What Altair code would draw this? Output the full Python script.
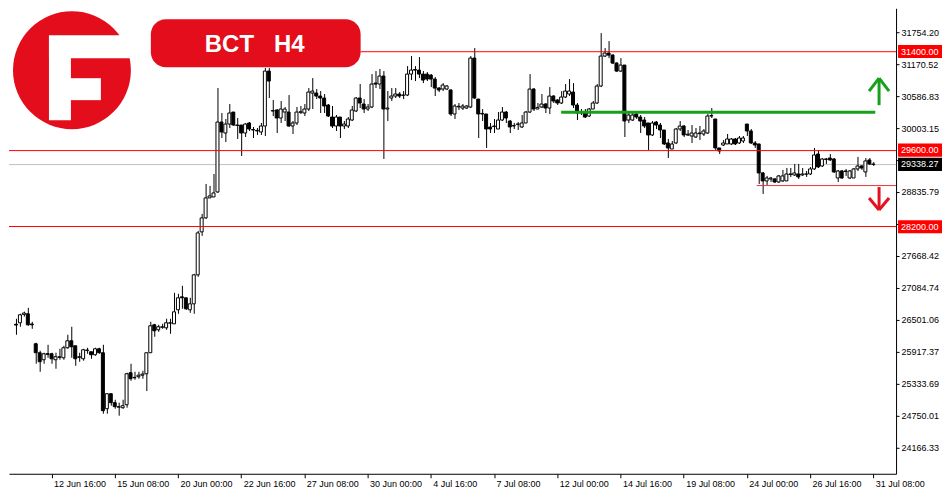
import altair as alt
import pandas as pd

# ---------------- data ----------------
opens = [
    26420, 26447, 26600, 26611, 26425, 26064, 25900, 25772, 25870, 25881,
    25772, 25815, 25808, 25991, 26118, 26027, 25815, 25790, 25940, 25918,
    25863, 25972, 25900, 24878, 25152, 24988, 24905, 24896, 24951, 25535,
    25450, 25462, 25490, 25516, 25900, 26410, 26319, 26365, 26355, 26440,
    26428, 26684, 26921, 26903, 26684, 26793, 27322, 28107, 28362, 28727,
    28745, 28836, 30113, 29912, 30076, 30295, 30050, 30058, 29912, 30095,
    29975, 29960, 29931, 30040, 31043, 30320, 30332, 30186, 30295, 30295,
    30040, 30095, 30290, 30277, 30350, 30642, 30642, 30587, 30551, 30423,
    30204, 30040, 30204, 30040, 30040, 30149, 30314, 30551, 30441, 30350,
    30387, 30824, 30806, 30952, 30350, 30551, 30587, 30624, 30600, 30605,
    30988, 31070, 31061, 30988, 30988, 30970, 30897, 30733, 30715, 30715,
    30697, 30259, 30390, 30368, 30368, 30387, 31280, 30532, 30270, 30259,
    30022, 30030, 29985, 30149, 30295, 30131, 30040, 30070, 30022, 30095,
    30295, 30715, 30350, 30387, 30441, 30368, 30587, 30514, 30460, 30569,
    30624, 30660, 30423, 30280, 30277, 30222, 30350, 30460, 30770, 31317,
    31372, 31335, 31189, 31043, 31153, 30149, 30149, 30259, 30204, 30149,
    30095, 29876, 30113, 30058, 29967, 29730, 29620, 29730, 29985, 30040,
    29876, 29858, 29839, 29900, 29894, 29912, 30222, 30168, 29639, 29693,
    29712, 29712, 29803, 29730, 29766, 30076, 29949, 29730, 29712, 29183,
    29037, 29073, 29073, 29018, 29037, 29037, 29155, 29146, 29164, 29146,
    29160, 29164, 29256, 29529, 29310, 29430, 29456, 29438, 29091, 29219,
    29210, 29091, 29091, 29256, 29310, 29201, 29420, 29345,
]
highs = [
    26520, 26611, 26650, 26720, 26465, 26082, 25936, 25900, 26045, 25900,
    25900, 25972, 26027, 26228, 26374, 26027, 25900, 25972, 25991, 25918,
    25991, 25991, 26045, 25152, 25152, 25042, 24988, 25042, 25535, 25699,
    25553, 25553, 25571, 25900, 26465, 26428, 26410, 26428, 26520, 26520,
    26994, 26976, 27122, 26903, 26903, 27340, 28125, 28435, 28982, 28946,
    29164, 30733, 30277, 30168, 30441, 30295, 30186, 30058, 30095, 30113,
    30022, 30003, 30095, 31098, 31098, 30514, 30350, 30496, 30387, 30605,
    30131, 30387, 30405, 30441, 30733, 30915, 30715, 30678, 30624, 30441,
    30405, 30241, 30204, 30131, 30204, 30405, 30569, 30806, 30532, 30441,
    30988, 31043, 31080, 31043, 30678, 30733, 30733, 30660, 30678, 31134,
    31317, 31134, 31299, 31043, 31025, 30988, 30934, 30751, 30824, 30788,
    30715, 30441, 30460, 30441, 30423, 31317, 31463, 30532, 30350, 30259,
    30095, 30168, 30295, 30387, 30314, 30149, 30095, 30113, 30241, 30314,
    30988, 30733, 30460, 30624, 30460, 30751, 30605, 30532, 30678, 30806,
    30897, 30824, 30460, 30350, 30350, 30368, 30496, 30806, 31736, 31463,
    31590, 31353, 31207, 31280, 31153, 30277, 30295, 30277, 30241, 30204,
    30095, 30131, 30131, 30095, 29967, 29803, 29766, 30003, 30131, 30058,
    29967, 30058, 30003, 30040, 29985, 30259, 30368, 30168, 29639, 29785,
    29894, 29821, 29821, 29858, 29858, 30076, 29985, 29766, 29712, 29201,
    29128, 29110, 29091, 29146, 29237, 29274, 29274, 29347, 29347, 29274,
    29219, 29292, 29639, 29602, 29456, 29456, 29529, 29456, 29237, 29237,
    29256, 29237, 29274, 29475, 29329, 29456, 29456, 29383,
]
lows = [
    26228, 26374, 26560, 26392, 26337, 25699, 25553, 25699, 25808, 25699,
    25608, 25772, 25772, 25972, 25808, 25662, 25735, 25754, 25881, 25790,
    25845, 25881, 24787, 24787, 24933, 24878, 24750, 24878, 24896, 25389,
    25407, 25425, 25425, 25200, 25900, 26191, 26282, 26337, 26319, 26246,
    26428, 26611, 26702, 26684, 26629, 26611, 27286, 28034, 28344, 28727,
    28745, 28818, 29821, 29748, 30003, 30040, 29803, 29493, 29839, 29949,
    29821, 29876, 29876, 29858, 30551, 30222, 29912, 30095, 30131, 30022,
    29894, 30058, 30259, 30222, 30314, 30350, 30532, 30277, 30277, 30204,
    30003, 29949, 29821, 29985, 30003, 30131, 30295, 30368, 30277, 30314,
    30368, 30733, 30715, 29438, 30131, 30496, 30551, 30551, 30532, 30587,
    30879, 30861, 30915, 30824, 30861, 30751, 30587, 30660, 30678, 30697,
    30222, 30168, 30332, 30332, 30350, 30368, 30532, 29821, 30131, 29639,
    29912, 29912, 29985, 30131, 30095, 29912, 29985, 29967, 30003, 30095,
    30277, 30314, 30350, 30368, 30277, 30259, 30460, 30423, 30441, 30551,
    30587, 30368, 30149, 30241, 30186, 30204, 30350, 30441, 30751, 31299,
    31280, 31171, 31025, 31025, 29839, 30095, 30131, 30168, 29912, 30003,
    29602, 29858, 29985, 29821, 29693, 29456, 29620, 29712, 29949, 29839,
    29858, 29730, 29821, 29785, 29858, 29894, 30186, 29602, 29529, 29675,
    29712, 29693, 29693, 29712, 29730, 29858, 29712, 29639, 28982, 28800,
    28964, 29018, 29000, 29000, 29018, 29037, 29110, 29128, 29073, 29128,
    29110, 29146, 29237, 29274, 29292, 29347, 29402, 29183, 29018, 29073,
    29128, 29073, 29091, 29219, 29237, 29110, 29329, 29310,
]
closes = [
    26405, 26593, 26625, 26410, 26410, 25900, 25735, 25881, 25885, 25790,
    25827, 25827, 25991, 26118, 26009, 25790, 25827, 25954, 25950, 25863,
    25972, 25900, 24842, 25152, 24988, 24915, 24915, 24933, 25516, 25425,
    25443, 25490, 25510, 25900, 26392, 26301, 26374, 26374, 26447, 26447,
    26647, 26903, 26903, 26702, 26793, 27322, 28088, 28362, 28727, 28763,
    28818, 30113, 29931, 30076, 30277, 30058, 30058, 29912, 30076, 29985,
    29967, 29950, 30040, 31043, 30861, 30314, 30186, 30350, 30350, 30040,
    30095, 30295, 30300, 30350, 30660, 30678, 30587, 30551, 30405, 30222,
    30040, 30204, 30040, 30076, 30168, 30332, 30551, 30460, 30350, 30387,
    30806, 30806, 30952, 30350, 30368, 30587, 30624, 30587, 30605, 30988,
    31061, 31061, 30988, 30879, 30897, 30897, 30733, 30697, 30788, 30770,
    30259, 30405, 30400, 30405, 30405, 31280, 30551, 30259, 30259, 29985,
    29985, 30040, 30149, 30295, 30186, 30022, 30050, 30076, 30095, 30295,
    30715, 30350, 30380, 30441, 30368, 30587, 30496, 30460, 30569, 30678,
    30678, 30423, 30277, 30290, 30204, 30350, 30460, 30770, 31317, 31372,
    31335, 31189, 31043, 31153, 30131, 30241, 30241, 30204, 30131, 30040,
    29876, 30095, 30058, 29967, 29712, 29639, 29712, 29985, 30040, 29876,
    29890, 29912, 29912, 29912, 29949, 30222, 30230, 29639, 29584, 29730,
    29803, 29803, 29712, 29821, 29821, 29949, 29730, 29693, 29183, 29037,
    29091, 29090, 29018, 29128, 29128, 29164, 29164, 29183, 29110, 29164,
    29164, 29256, 29511, 29292, 29438, 29438, 29420, 29201, 29219, 29091,
    29219, 29219, 29256, 29310, 29274, 29402, 29347, 29338,
]

tick_idx = [9, 25, 41, 57, 73, 89, 105, 121, 137, 153, 169, 185, 201, 217]
tick_labels = [
    "12 Jun 16:00", "15 Jun 08:00", "20 Jun 00:00", "22 Jun 16:00",
    "27 Jun 08:00", "30 Jun 00:00", "4 Jul 16:00", "7 Jul 08:00",
    "12 Jul 00:00", "14 Jul 16:00", "19 Jul 08:00", "24 Jul 00:00",
    "26 Jul 16:00", "31 Jul 08:00",
]
price_ticks = [24166.33, 24750.01, 25333.69, 25917.37, 26501.06, 27084.74,
               27668.42, 28252.11, 28835.79, 29419.47, 30003.15, 30586.83,
               31170.52, 31754.20]
hidden_tick = 29419.47  # covered by the bid-price box in the reference

red_levels = [31400, 29600, 28200]
bid_price = [29338.27]
support_level = 28946
green_level = 30290
green_from, green_to = 138, 217.5
support_from = 187.5
title_text = "BCT\u00a0\u00a0\u00a0H4"

# ---------------- build ----------------
n = len(opens)
df = pd.DataFrame({
    "k": list(range(n)),
    "open": opens, "high": highs, "low": lows, "close": closes,
})
df["dir"] = ["up" if c >= o else "down" for o, c in zip(opens, closes)]

W, H = 888, 466
FONT = "Liberation Sans"
RED = "#ff0000"
LOGO_RED = "#e30d1b"
GREEN = "#18a01c"
ARROW_RED = "#e3121c"

x_scale = alt.Scale(domain=[-0.5, -0.5 + W / 4], nice=False, zero=False)
y_top = 32190
y_scale = alt.Scale(domain=[y_top - H * 18.24, y_top], nice=False, zero=False)

x_label_expr = ("[" + ",".join("'%s'" % s for s in tick_labels) + "]"
                "[indexof([" + ",".join(str(v) for v in tick_idx) + "], datum.value)]")
y_label_expr = "datum.value == %s ? '' : format(datum.value, '.2f')" % hidden_tick

x_axis = alt.Axis(values=tick_idx, labelExpr=x_label_expr, title=None, orient="bottom",
                  tickSize=4, labelAlign="left", labelBaseline="top", labelPadding=2,
                  labelOffset=2, labelFont=FONT, labelFontSize=9, labelColor="black",
                  domainColor="black", tickColor="black", grid=False,
                  labelOverlap=False, labelFlush=False)
y_axis = alt.Axis(values=price_ticks, labelExpr=y_label_expr, title=None, orient="right",
                  tickSize=3, labelPadding=2, labelAlign="left", labelBaseline="middle",
                  labelFont=FONT, labelFontSize=9, labelColor="black",
                  domainColor="black", tickColor="black", grid=False,
                  labelOverlap=False, labelFlush=False)


def Yq(field):
    return alt.Y(field, scale=y_scale, axis=y_axis)


def Xq(field):
    return alt.X(field, scale=x_scale, axis=x_axis)


base = alt.Chart(df).encode(x=Xq("k:Q"))

wicks = base.mark_rule(color="black", strokeWidth=1, xOffset=0.5).encode(
    y=Yq("low:Q"), y2="high:Q")
bodies = base.mark_bar(size=3, stroke="black", strokeWidth=1, orient="vertical").encode(
    y=Yq("open:Q"), y2="close:Q",
    fill=alt.Fill("dir:N", scale=alt.Scale(domain=["up", "down"], range=["white", "black"]),
                  legend=None))

one = pd.DataFrame({"z": [0]})


def hline(prices, color, y_off):
    # full-width 1px level line, nudged onto a whole pixel row so it renders crisply
    return alt.Chart(pd.DataFrame({"price": prices})).mark_rule(
        color=color, strokeWidth=1, yOffset=y_off).encode(y=Yq("price:Q"))


bid_line = hline(bid_price, "#c0c0c0", 0.15)
red_lines = [hline(red_levels[:1], RED, 0.2), hline(red_levels[1:2], RED, 0.5),
             hline(red_levels[2:], RED, -0.25)]

support = alt.Chart(pd.DataFrame({"price": [support_level], "k0": [support_from]})).mark_rule(
    color="#f0303a", strokeWidth=1, yOffset=-0.35).encode(
    y=Yq("price:Q"), x=Xq("k0:Q"), x2=alt.value(W))
green = alt.Chart(pd.DataFrame({"price": [green_level], "k0": [green_from], "k1": [green_to]})).mark_rule(
    color=GREEN, strokeWidth=3).encode(y=Yq("price:Q"), x=Xq("k0:Q"), x2="k1:Q")


def seg(color, x1, y1, x2, y2):
    return alt.Chart(one).mark_rule(color=color, strokeWidth=3).encode(
        x=alt.value(x1), y=alt.value(y1), x2=alt.value(x2), y2=alt.value(y2))


AX = W - 17
arrows = [
    seg(GREEN, AX, 70, AX, 97), seg(GREEN, AX, 70, AX - 10, 83), seg(GREEN, AX, 70, AX + 10, 83),
    seg(ARROW_RED, AX, 179, AX, 202), seg(ARROW_RED, AX, 202, AX - 10, 190),
    seg(ARROW_RED, AX, 202, AX + 10, 190),
]


def white_rect(x1, x2, y1, y2):
    return alt.Chart(one).mark_rect(color="white").encode(
        x=alt.value(x1), x2=alt.value(x2), y=alt.value(y1), y2=alt.value(y2))


# white banner behind the logo and the title badge
banner = white_rect(0, 352, 36, 50)

# circle symbol: size is the area of its bounding square -> diameter 118
logo_circle = alt.Chart(one).mark_circle(size=118 * 118, color=LOGO_RED, opacity=1).encode(
    x=alt.value(63), y=alt.value(62))

logo_cuts = [white_rect(40, 62, 28, 112), white_rect(40, 130, 27, 50), white_rect(61, 92, 70, 92)]

title_box = alt.Chart(one).mark_rect(color=LOGO_RED, cornerRadius=15).encode(
    x=alt.value(142), x2=alt.value(352), y=alt.value(11), y2=alt.value(59))
title = alt.Chart(one).mark_text(text=title_text, font=FONT, fontSize=24, fontWeight="bold",
                                  color="white", align="center", baseline="alphabetic").encode(
    x=alt.value(246), y=alt.value(44))

BOX = "M-1,-0.3L1,-0.3L1,0.3L-1,0.3Z"
BX = W + 24
red_boxes = alt.Chart(pd.DataFrame({"price": red_levels})).mark_point(
    shape=BOX, size=1936, filled=True, color=RED, opacity=1, strokeWidth=0).encode(
    x=alt.value(BX), y=Yq("price:Q"))
black_box = alt.Chart(pd.DataFrame({"price": bid_price})).mark_point(
    shape=BOX, size=1936, filled=True, color="black", opacity=1, strokeWidth=0).encode(
    x=alt.value(BX), y=Yq("price:Q"))
red_texts = alt.Chart(pd.DataFrame({"price": red_levels})).mark_text(
    align="left", baseline="middle", color="white", font=FONT, fontSize=9).encode(
    x=alt.value(W + 5), y=Yq("price:Q"), text=alt.Text("price:Q", format=".2f"))
black_text = alt.Chart(pd.DataFrame({"price": bid_price})).mark_text(
    align="left", baseline="middle", color="white", font=FONT, fontSize=9).encode(
    x=alt.value(W + 5), y=Yq("price:Q"), text=alt.Text("price:Q", format=".2f"))

chart = alt.layer(
    bid_line, wicks, bodies, *red_lines, support, green, *arrows,
    banner, logo_circle, *logo_cuts, title_box, title,
    red_boxes, black_box, red_texts, black_text,
).properties(width=W, height=H, padding=0, background="white").configure_view(strokeWidth=0)

chart.save("out.html", embed_options={"renderer": "svg", "actions": False})
